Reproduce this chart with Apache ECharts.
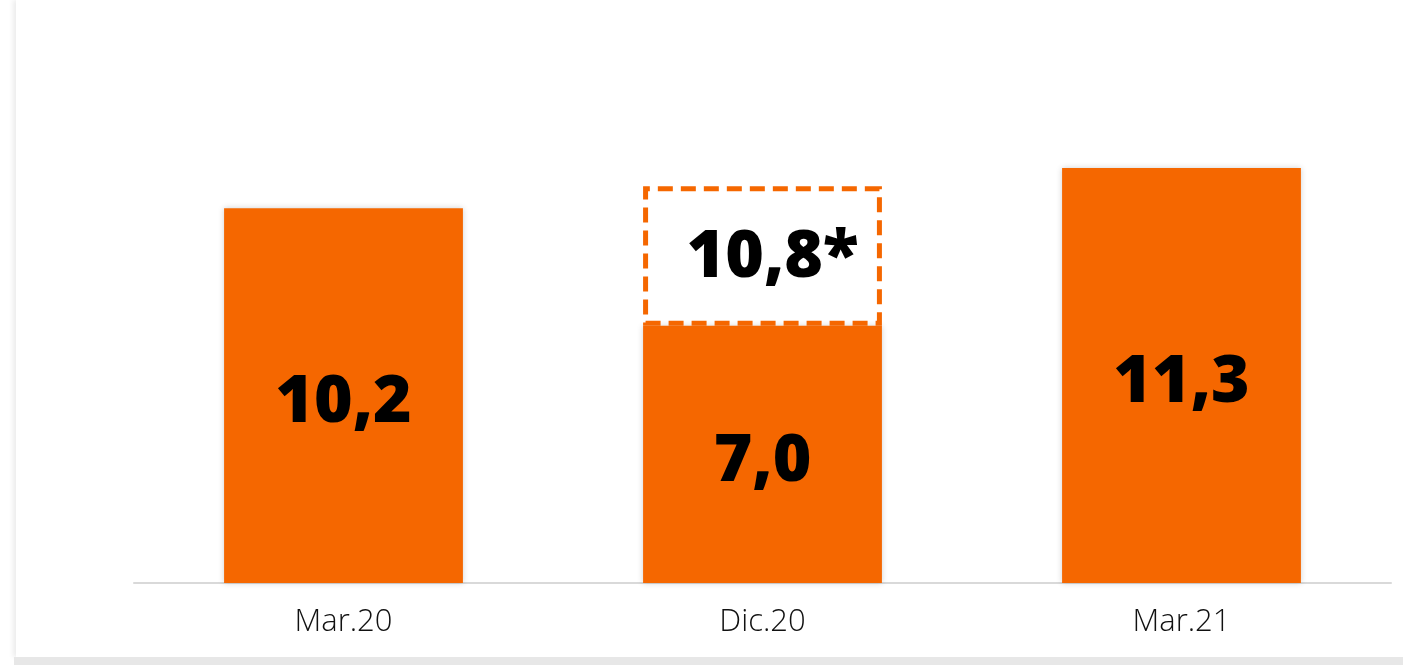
<!DOCTYPE html>
<html>
<head>
<meta charset="utf-8">
<script src="https://cdn.jsdelivr.net/npm/echarts@6/dist/echarts.min.js"></script>
<style>
html,body{margin:0;padding:0;background:#fff;width:1403px;height:665px;overflow:hidden;}
#panel{position:absolute;left:16px;top:0;width:1387px;height:657px;background:#fff;box-shadow:-3px 0 5px rgba(0,0,0,0.08);}
#band{position:absolute;left:14px;top:657px;width:1389px;height:8px;background:#e7e7e7;}
#chart{position:absolute;left:0;top:0;width:1403px;height:665px;}
</style>
</head>
<body>
<div id="panel"></div>
<div id="band"></div>
<div id="chart"></div>
<script>
const categories = ['Mar.20', 'Dic.20', 'Mar.21'];
const reportedValues = [10.2, 7.0, 11.3];
const reportedLabels = ['10,2', '7,0', '11,3'];
const estimatedTotals = [null, 10.8, null];
const estimatedLabels = [null, '10,8*', null];

const ORANGE = '#f56700';
const extraValues = estimatedTotals.map((t, i) => t == null ? null : +(t - reportedValues[i]).toFixed(2));

const labelFont = { fontFamily: 'Open Sans', fontWeight: 800, fontSize: 66, color: '#000' };

const chart = echarts.init(document.getElementById('chart'));
chart.setOption({
  animation: false,
  backgroundColor: 'transparent',
  grid: { left: 134, right: 12, top: 32, bottom: 82 },
  xAxis: {
    type: 'category',
    data: categories,
    axisLine: { show: true, lineStyle: { color: '#d9d9d9', width: 2 } },
    axisTick: { show: false },
    axisLabel: { fontFamily: 'Open Sans', fontSize: 31, fontWeight: 300, color: '#111', margin: 24 }
  },
  yAxis: { type: 'value', min: 0, max: 15, show: false, splitLine: { show: false } },
  series: [
    {
      type: 'bar',
      stack: 's',
      barWidth: '57%',
      data: reportedValues,
      itemStyle: { color: ORANGE, shadowBlur: 6, shadowColor: 'rgba(0,0,0,0.18)' },
      label: Object.assign({
        show: true, position: 'inside', offset: [0, 8],
        formatter: p => reportedLabels[p.dataIndex]
      }, labelFont),
      z: 2
    },
    {
      type: 'bar',
      stack: 's',
      barWidth: '57%',
      data: extraValues,
      itemStyle: { color: 'rgba(255,255,255,0)', borderColor: ORANGE, borderWidth: 5, borderType: [15, 8] },
      label: Object.assign({
        show: true, position: 'inside', offset: [10, 2],
        formatter: p => estimatedLabels[p.dataIndex] || ''
      }, labelFont),
      z: 3
    }
  ]
});
</script>
</body>
</html>
